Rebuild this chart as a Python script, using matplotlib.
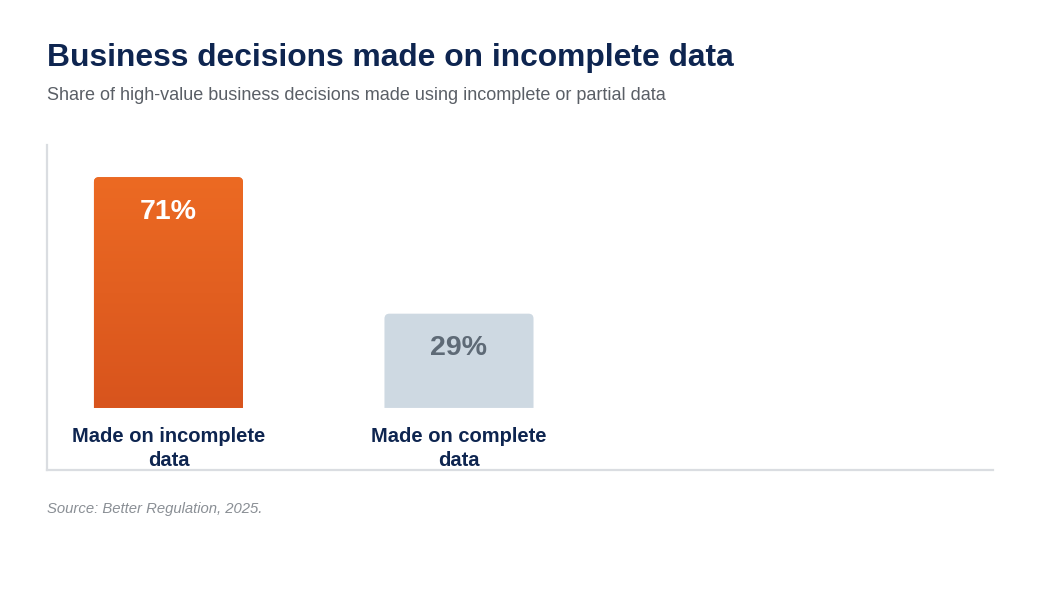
import numpy as np
import matplotlib.pyplot as plt
from matplotlib.colors import LinearSegmentedColormap
from matplotlib.path import Path
from matplotlib.patches import PathPatch

plt.rcParams['font.family'] = ['Liberation Sans', 'DejaVu Sans']

categories = ['Made on incomplete\ndata', 'Made on complete\ndata']
values = [71, 29]
value_labels = ['71%', '29%']

navy = '#0E2550'
spine_col = '#DADDE1'

fig = plt.figure(figsize=(10.4, 6), dpi=100)
ax = fig.add_axes([47 / 1040, 130 / 600, 946 / 1040, 325 / 600])

ax.set_xlim(-0.418, 2.838)
ax.set_ylim(-19.1, 80.9)

x = np.arange(len(values))
width = 0.513
# corner radius of ~5px, in data units
rx, ry = 5 / 290.5, 5 / 3.25


def top_rounded(xc, h):
    x0, x1 = xc - width / 2, xc + width / 2
    verts = [(x0, 0), (x0, h - ry), (x0, h), (x0 + rx, h), (x1 - rx, h), (x1, h), (x1, h - ry),
             (x1, 0), (x0, 0)]
    codes = [Path.MOVETO, Path.LINETO, Path.CURVE3, Path.CURVE3, Path.LINETO, Path.CURVE3,
             Path.CURVE3, Path.LINETO, Path.CLOSEPOLY]
    return Path(verts, codes)


orange_bar = PathPatch(top_rounded(x[0], values[0]), facecolor='#E2601F', edgecolor='none', zorder=2)
grey_bar = PathPatch(top_rounded(x[1], values[1]), facecolor='#CED9E2', edgecolor='none', zorder=2)
ax.add_patch(orange_bar)
ax.add_patch(grey_bar)

# gradient on the orange bar
orange = LinearSegmentedColormap.from_list('o', ['#D8541D', '#EC6A23'])
grad = np.linspace(0, 1, 256).reshape(-1, 1)
im = ax.imshow(grad, cmap=orange, origin='lower', aspect='auto',
               extent=[x[0] - width / 2, x[0] + width / 2, 0, values[0]], zorder=3)
im.set_clip_path(orange_bar)

ax.annotate(value_labels[0], (x[0], values[0]), xytext=(0, -25), textcoords='offset points',
            ha='center', va='center', fontsize=20.5, fontweight='bold', color='white', zorder=4)
ax.annotate(value_labels[1], (x[1], values[1]), xytext=(0, -25), textcoords='offset points',
            ha='center', va='center', fontsize=20.5, fontweight='bold', color='#5E6A76', zorder=4)

for xi, lab in zip(x, categories):
    ax.annotate(lab, (xi, 0), xytext=(0, -13.5), textcoords='offset points',
                ha='center', va='top', fontsize=14.5, fontweight='bold', color=navy,
                linespacing=1.35)

for s in ['top', 'right']:
    ax.spines[s].set_visible(False)
for s in ['left', 'bottom']:
    ax.spines[s].set_color(spine_col)
    ax.spines[s].set_linewidth(1.6)
ax.set_xticks([])
ax.set_yticks([])
ax.set_facecolor('none')

fig.text(47 / 1040, 1 - 58 / 600, 'Business decisions made on incomplete data',
         fontsize=22.9, fontweight='bold', color=navy, va='center', ha='left')
fig.text(47 / 1040, 1 - 95 / 600,
         'Share of high-value business decisions made using incomplete or partial data',
         fontsize=13, color='#5A5F66', va='center', ha='left')
fig.text(47 / 1040, 1 - 509 / 600, 'Source: Better Regulation, 2025.',
         fontsize=10.7, color='#8A8F95', style='italic', va='center', ha='left')

fig.savefig('out.png', dpi=100, facecolor='white')
